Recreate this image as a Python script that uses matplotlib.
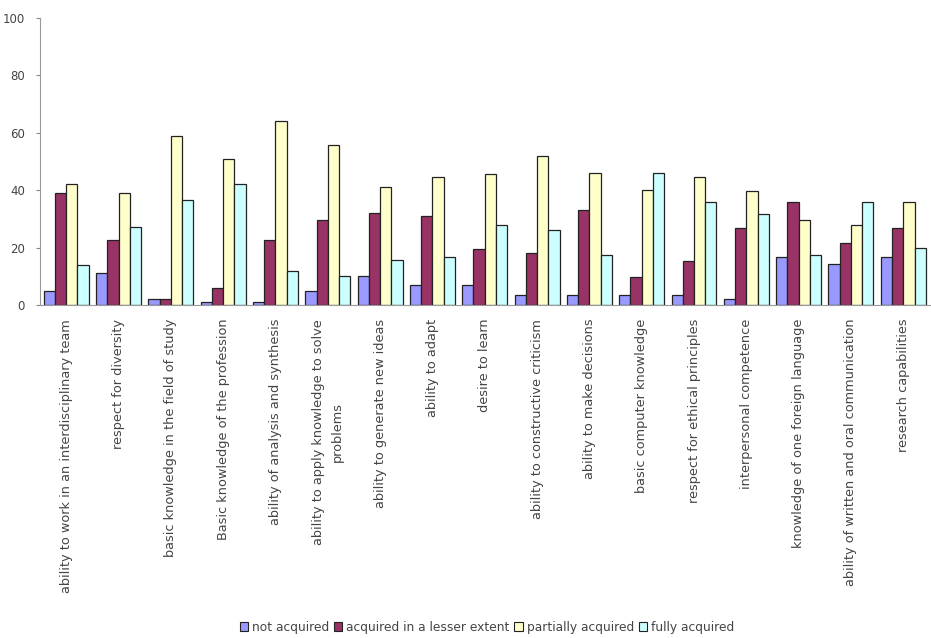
import numpy as np
import matplotlib.pyplot as plt
from matplotlib.patches import Patch

categories = [
    'ability to work in an interdisciplinary team',
    'respect for diversity',
    'basic knowledge in the field of study',
    'Basic knowledge of the profession',
    'ability of analysis and synthesis',
    'ability to apply knowledge to solve\nproblems',
    'ability to generate new ideas',
    'ability to adapt',
    'desire to learn',
    'ability to constructive criticism',
    'ability to make decisions',
    'basic computer knowledge',
    'respect for ethical principles',
    'interpersonal competence',
    'knowledge of one foreign language',
    'ability of written and oral communication',
    'research capabilities',
]

series_names = ['not acquired', 'acquired in a lesser extent',
                'partially acquired', 'fully acquired']

not_acquired = [5, 11, 2, 1, 1, 5, 10, 7, 7, 3.5, 3.5, 3.5, 3.5, 2, 16.7, 14.2, 16.7]
lesser_extent = [39, 22.6, 2, 6, 22.6, 29.6, 32, 31, 19.5, 18, 33, 9.7, 15.3, 26.7, 36, 21.5, 26.7]
partially = [42, 39, 59, 51, 64, 55.6, 41, 44.5, 45.5, 52, 46, 40, 44.7, 39.7, 29.6, 27.8, 36]
fully = [14, 27, 36.5, 42, 12, 10, 15.7, 16.7, 28, 26, 17.5, 46, 36, 31.6, 17.4, 36, 20]

y_ticks = [0, 20, 40, 60, 80, 100]

colors = ['#9999ff', '#993366', '#ffffcc', '#ccffff']

plt.rcParams['font.family'] = ['DejaVu Sans']

fig = plt.figure(figsize=(9.31, 6.38), dpi=100)
ax = fig.add_axes([0.043, 0.522, 0.957, 0.45])

x = np.arange(len(categories))
width = 0.215
series = [not_acquired, lesser_extent, partially, fully]
for i, (vals, color, name) in enumerate(zip(series, colors, series_names)):
    ax.bar(x + (i - 1.5) * width, vals, width=width, color=color,
           edgecolor='#222222', linewidth=0.9, label=name)

ax.set_xlim(-0.5, len(categories) - 0.47)
ax.set_ylim(0, 100)
ax.set_yticks(y_ticks)
ax.set_yticklabels([str(t) for t in y_ticks], fontsize=8.5, color='#444444')
ax.set_xticks(x)
ax.set_xticklabels(categories, rotation=90, fontsize=9.3, color='#444444',
                   va='top', ha='center', multialignment='center',
                   linespacing=1.6)
ax.tick_params(axis='x', length=0, pad=10)
ax.tick_params(axis='y', length=3, color='#888888', pad=8)

for side in ['top', 'right']:
    ax.spines[side].set_visible(False)
ax.spines['left'].set_color('#999999')
ax.spines['bottom'].set_color('#999999')

handles = [Patch(facecolor=c, edgecolor='#222222', linewidth=0.8) for c in colors]
fig.legend(handles, series_names, loc='center', bbox_to_anchor=(0.523, 0.017),
           ncol=4, frameon=False, fontsize=8.8, handlelength=0.7, handleheight=0.7,
           handletextpad=0.3, columnspacing=0.4, labelcolor='#444444')

fig.savefig('out.png', dpi=100)
